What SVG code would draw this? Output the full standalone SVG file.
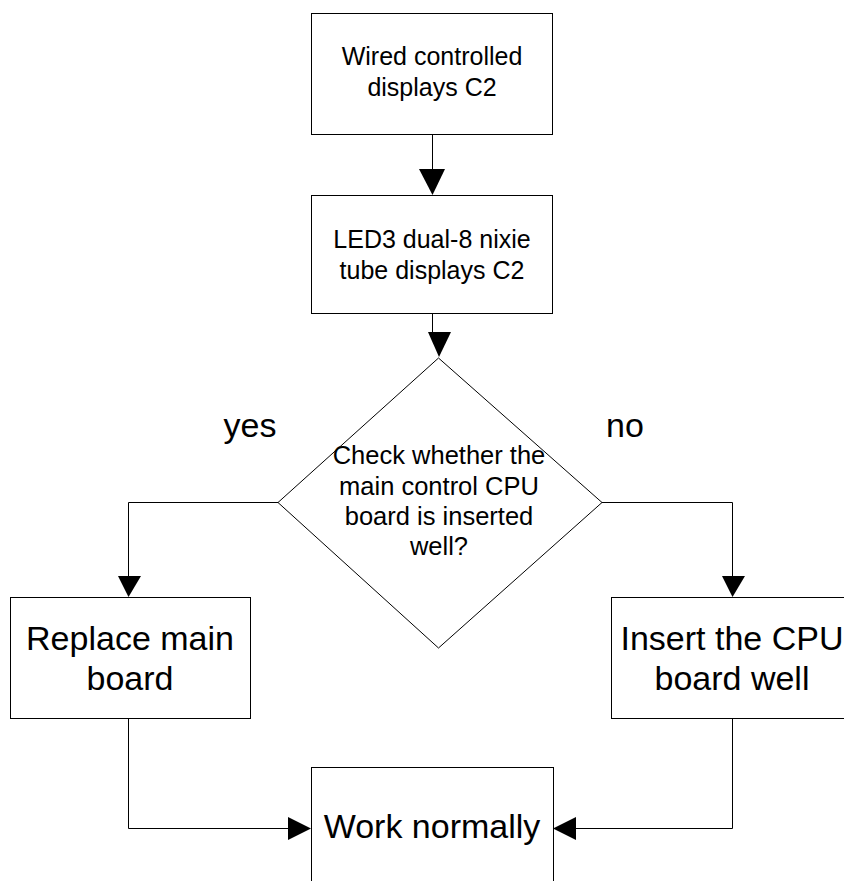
<svg xmlns="http://www.w3.org/2000/svg" width="844" height="881" viewBox="0 0 844 881">
<style>
.box{fill:#fff;stroke:#000;stroke-width:1}
.ln{fill:none;stroke:#000;stroke-width:1}
.ah{fill:#000;stroke:none}
text{font-family:"Liberation Sans",Arial,sans-serif;fill:#000;text-anchor:middle}
.t24{font-size:25px}
.td{font-size:25.5px}
.t33{font-size:34px}
</style>
<rect width="844" height="881" fill="#fff"/>
<g id="connectors">
<line class="ln" x1="432.5" y1="134" x2="432.5" y2="170"/>
<polygon class="ah" points="419,169 445,169 432.5,195"/>
<line class="ln" x1="432.5" y1="313" x2="432.5" y2="333"/>
<polygon class="ah" points="428,332 451,332 439,357"/>
<polyline class="ln" points="278,502.5 128.5,502.5 128.5,578"/>
<polygon class="ah" points="118,576 141,576 128.5,597"/>
<polyline class="ln" points="602,502.5 732.5,502.5 732.5,578"/>
<polygon class="ah" points="722,576 745,576 732.5,597"/>
<polyline class="ln" points="128.5,719 128.5,828.5 290,828.5"/>
<polygon class="ah" points="288,817 288,840 311,828.5"/>
<polyline class="ln" points="732.5,719 732.5,828.5 575,828.5"/>
<polygon class="ah" points="576,817 576,840 553,828.5"/>
</g>
<g id="n1">
<rect class="box" x="311.5" y="13.5" width="241" height="121"/>
<text class="t24" x="432" y="65">Wired controlled</text>
<text class="t24" x="432" y="96">displays C2</text>
</g>
<g id="n2">
<rect class="box" x="311.5" y="195.5" width="241" height="118"/>
<text class="t24" x="432" y="248">LED3 dual-8 nixie</text>
<text class="t24" x="432" y="279">tube displays C2</text>
</g>
<g id="n3">
<polygon class="box" points="438.5,358 602,502.5 438.5,648 278,502.5"/>
<text class="td" x="439" y="464">Check whether the</text>
<text class="td" x="439" y="495">main control CPU</text>
<text class="td" x="439" y="525">board is inserted</text>
<text class="td" x="439" y="555">well?</text>
</g>
<g id="n4">
<rect class="box" x="10.5" y="597.5" width="240" height="121"/>
<text class="t33" x="130" y="650">Replace main</text>
<text class="t33" x="130" y="690">board</text>
</g>
<g id="n5">
<rect class="box" x="611.5" y="597.5" width="242" height="121"/>
<text class="t33" x="732" y="650">Insert the CPU</text>
<text class="t33" x="732" y="690">board well</text>
</g>
<g id="n6">
<rect class="box" x="311.5" y="767.5" width="242" height="130"/>
<text class="t33" x="432" y="838">Work normally</text>
</g>
<g id="labels">
<text class="t33" x="250" y="437">yes</text>
<text class="t33" x="625" y="437">no</text>
</g>
</svg>
